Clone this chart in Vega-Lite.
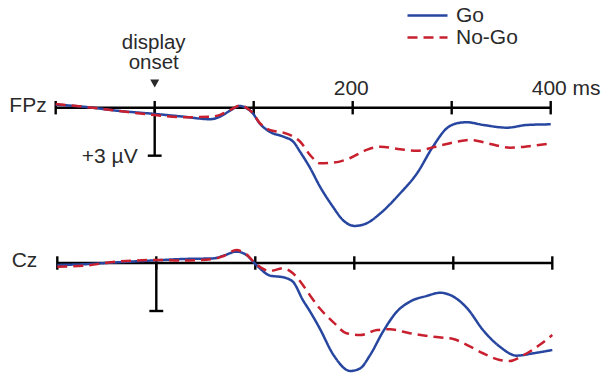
{
  "$schema": "https://vega.github.io/schema/vega-lite/v6.json",
  "padding": 0,
  "spacing": 0,
  "bounds": "flush",
  "config": {
    "view": {"stroke": null},
    "font": "Liberation Sans",
    "axis": {"grid": false, "domain": false, "ticks": false, "title": null},
    "concat": {"spacing": 0}
  },
  "resolve": {"scale": {"x": "independent", "y": "independent", "color": "shared", "strokeDash": "shared"}},
  "datasets": {
    "ticks": [{"t": -100}, {"t": 0}, {"t": 100}, {"t": 200}, {"t": 300}, {"t": 400}],
    "erp": [
      {"panel": "FPz", "cond": "Go", "t": -100, "v": -0.19},
      {"panel": "FPz", "cond": "Go", "t": -72, "v": -0.06},
      {"panel": "FPz", "cond": "Go", "t": -38, "v": 0.19},
      {"panel": "FPz", "cond": "Go", "t": 0, "v": 0.39},
      {"panel": "FPz", "cond": "Go", "t": 29, "v": 0.56},
      {"panel": "FPz", "cond": "Go", "t": 56, "v": 0.72},
      {"panel": "FPz", "cond": "Go", "t": 66, "v": 0.56},
      {"panel": "FPz", "cond": "Go", "t": 76, "v": 0.19},
      {"panel": "FPz", "cond": "Go", "t": 86, "v": -0.11},
      {"panel": "FPz", "cond": "Go", "t": 93, "v": 0.04},
      {"panel": "FPz", "cond": "Go", "t": 99, "v": 0.35},
      {"panel": "FPz", "cond": "Go", "t": 106, "v": 0.98},
      {"panel": "FPz", "cond": "Go", "t": 116, "v": 1.5},
      {"panel": "FPz", "cond": "Go", "t": 130, "v": 1.81},
      {"panel": "FPz", "cond": "Go", "t": 140, "v": 2.13},
      {"panel": "FPz", "cond": "Go", "t": 147, "v": 2.77},
      {"panel": "FPz", "cond": "Go", "t": 157, "v": 3.77},
      {"panel": "FPz", "cond": "Go", "t": 167, "v": 4.94},
      {"panel": "FPz", "cond": "Go", "t": 180, "v": 6.19},
      {"panel": "FPz", "cond": "Go", "t": 190, "v": 7.02},
      {"panel": "FPz", "cond": "Go", "t": 202, "v": 7.39},
      {"panel": "FPz", "cond": "Go", "t": 214, "v": 7.23},
      {"panel": "FPz", "cond": "Go", "t": 228, "v": 6.6},
      {"panel": "FPz", "cond": "Go", "t": 248, "v": 5.35},
      {"panel": "FPz", "cond": "Go", "t": 265, "v": 4.1},
      {"panel": "FPz", "cond": "Go", "t": 281, "v": 2.44},
      {"panel": "FPz", "cond": "Go", "t": 295, "v": 1.29},
      {"panel": "FPz", "cond": "Go", "t": 305, "v": 0.98},
      {"panel": "FPz", "cond": "Go", "t": 315, "v": 0.91},
      {"panel": "FPz", "cond": "Go", "t": 332, "v": 1.08},
      {"panel": "FPz", "cond": "Go", "t": 356, "v": 1.25},
      {"panel": "FPz", "cond": "Go", "t": 376, "v": 1.08},
      {"panel": "FPz", "cond": "Go", "t": 400, "v": 1.04},
      {"panel": "FPz", "cond": "No-Go", "t": -100, "v": -0.23},
      {"panel": "FPz", "cond": "No-Go", "t": -72, "v": -0.06},
      {"panel": "FPz", "cond": "No-Go", "t": -38, "v": 0.19},
      {"panel": "FPz", "cond": "No-Go", "t": 0, "v": 0.46},
      {"panel": "FPz", "cond": "No-Go", "t": 29, "v": 0.6},
      {"panel": "FPz", "cond": "No-Go", "t": 56, "v": 0.56},
      {"panel": "FPz", "cond": "No-Go", "t": 66, "v": 0.45},
      {"panel": "FPz", "cond": "No-Go", "t": 76, "v": 0.15},
      {"panel": "FPz", "cond": "No-Go", "t": 86, "v": -0.13},
      {"panel": "FPz", "cond": "No-Go", "t": 93, "v": 0.02},
      {"panel": "FPz", "cond": "No-Go", "t": 99, "v": 0.33},
      {"panel": "FPz", "cond": "No-Go", "t": 106, "v": 0.95},
      {"panel": "FPz", "cond": "No-Go", "t": 116, "v": 1.39},
      {"panel": "FPz", "cond": "No-Go", "t": 130, "v": 1.56},
      {"panel": "FPz", "cond": "No-Go", "t": 140, "v": 1.81},
      {"panel": "FPz", "cond": "No-Go", "t": 147, "v": 2.13},
      {"panel": "FPz", "cond": "No-Go", "t": 157, "v": 2.96},
      {"panel": "FPz", "cond": "No-Go", "t": 167, "v": 3.48},
      {"panel": "FPz", "cond": "No-Go", "t": 180, "v": 3.44},
      {"panel": "FPz", "cond": "No-Go", "t": 197, "v": 3.16},
      {"panel": "FPz", "cond": "No-Go", "t": 214, "v": 2.64},
      {"panel": "FPz", "cond": "No-Go", "t": 228, "v": 2.44},
      {"panel": "FPz", "cond": "No-Go", "t": 248, "v": 2.6},
      {"panel": "FPz", "cond": "No-Go", "t": 265, "v": 2.69},
      {"panel": "FPz", "cond": "No-Go", "t": 281, "v": 2.48},
      {"panel": "FPz", "cond": "No-Go", "t": 305, "v": 2.13},
      {"panel": "FPz", "cond": "No-Go", "t": 319, "v": 2.02},
      {"panel": "FPz", "cond": "No-Go", "t": 339, "v": 2.27},
      {"panel": "FPz", "cond": "No-Go", "t": 359, "v": 2.5},
      {"panel": "FPz", "cond": "No-Go", "t": 380, "v": 2.39},
      {"panel": "FPz", "cond": "No-Go", "t": 400, "v": 2.23},
      {"panel": "Cz", "cond": "Go", "t": -100, "v": 0.12},
      {"panel": "Cz", "cond": "Go", "t": -74, "v": 0.08},
      {"panel": "Cz", "cond": "Go", "t": -40, "v": -0.04},
      {"panel": "Cz", "cond": "Go", "t": 0, "v": -0.17},
      {"panel": "Cz", "cond": "Go", "t": 27, "v": -0.25},
      {"panel": "Cz", "cond": "Go", "t": 58, "v": -0.29},
      {"panel": "Cz", "cond": "Go", "t": 68, "v": -0.46},
      {"panel": "Cz", "cond": "Go", "t": 81, "v": -0.71},
      {"panel": "Cz", "cond": "Go", "t": 91, "v": -0.5},
      {"panel": "Cz", "cond": "Go", "t": 101, "v": 0.12},
      {"panel": "Cz", "cond": "Go", "t": 115, "v": 0.79},
      {"panel": "Cz", "cond": "Go", "t": 128, "v": 0.89},
      {"panel": "Cz", "cond": "Go", "t": 138, "v": 1.17},
      {"panel": "Cz", "cond": "Go", "t": 148, "v": 2.31},
      {"panel": "Cz", "cond": "Go", "t": 155, "v": 3.0},
      {"panel": "Cz", "cond": "Go", "t": 165, "v": 4.08},
      {"panel": "Cz", "cond": "Go", "t": 179, "v": 5.75},
      {"panel": "Cz", "cond": "Go", "t": 196, "v": 6.75},
      {"panel": "Cz", "cond": "Go", "t": 206, "v": 6.58},
      {"panel": "Cz", "cond": "Go", "t": 216, "v": 5.75},
      {"panel": "Cz", "cond": "Go", "t": 229, "v": 4.29},
      {"panel": "Cz", "cond": "Go", "t": 243, "v": 3.04},
      {"panel": "Cz", "cond": "Go", "t": 256, "v": 2.42},
      {"panel": "Cz", "cond": "Go", "t": 273, "v": 2.06},
      {"panel": "Cz", "cond": "Go", "t": 287, "v": 1.86},
      {"panel": "Cz", "cond": "Go", "t": 300, "v": 2.1},
      {"panel": "Cz", "cond": "Go", "t": 314, "v": 2.83},
      {"panel": "Cz", "cond": "Go", "t": 330, "v": 4.19},
      {"panel": "Cz", "cond": "Go", "t": 347, "v": 5.23},
      {"panel": "Cz", "cond": "Go", "t": 364, "v": 5.79},
      {"panel": "Cz", "cond": "Go", "t": 381, "v": 5.64},
      {"panel": "Cz", "cond": "Go", "t": 400, "v": 5.44},
      {"panel": "Cz", "cond": "No-Go", "t": -100, "v": 0.23},
      {"panel": "Cz", "cond": "No-Go", "t": -74, "v": 0.17},
      {"panel": "Cz", "cond": "No-Go", "t": -40, "v": -0.08},
      {"panel": "Cz", "cond": "No-Go", "t": 0, "v": -0.19},
      {"panel": "Cz", "cond": "No-Go", "t": 27, "v": -0.15},
      {"panel": "Cz", "cond": "No-Go", "t": 58, "v": -0.25},
      {"panel": "Cz", "cond": "No-Go", "t": 68, "v": -0.44},
      {"panel": "Cz", "cond": "No-Go", "t": 81, "v": -0.81},
      {"panel": "Cz", "cond": "No-Go", "t": 91, "v": -0.54},
      {"panel": "Cz", "cond": "No-Go", "t": 101, "v": 0.08},
      {"panel": "Cz", "cond": "No-Go", "t": 115, "v": 0.5},
      {"panel": "Cz", "cond": "No-Go", "t": 128, "v": 0.33},
      {"panel": "Cz", "cond": "No-Go", "t": 138, "v": 0.64},
      {"panel": "Cz", "cond": "No-Go", "t": 148, "v": 1.38},
      {"panel": "Cz", "cond": "No-Go", "t": 155, "v": 2.0},
      {"panel": "Cz", "cond": "No-Go", "t": 165, "v": 2.83},
      {"panel": "Cz", "cond": "No-Go", "t": 179, "v": 3.71},
      {"panel": "Cz", "cond": "No-Go", "t": 192, "v": 4.39},
      {"panel": "Cz", "cond": "No-Go", "t": 206, "v": 4.5},
      {"panel": "Cz", "cond": "No-Go", "t": 223, "v": 4.19},
      {"panel": "Cz", "cond": "No-Go", "t": 236, "v": 4.14},
      {"panel": "Cz", "cond": "No-Go", "t": 256, "v": 4.39},
      {"panel": "Cz", "cond": "No-Go", "t": 280, "v": 4.61},
      {"panel": "Cz", "cond": "No-Go", "t": 300, "v": 4.75},
      {"panel": "Cz", "cond": "No-Go", "t": 314, "v": 5.13},
      {"panel": "Cz", "cond": "No-Go", "t": 330, "v": 5.64},
      {"panel": "Cz", "cond": "No-Go", "t": 347, "v": 6.06},
      {"panel": "Cz", "cond": "No-Go", "t": 357, "v": 6.13},
      {"panel": "Cz", "cond": "No-Go", "t": 370, "v": 5.79},
      {"panel": "Cz", "cond": "No-Go", "t": 387, "v": 5.13},
      {"panel": "Cz", "cond": "No-Go", "t": 400, "v": 4.5}
    ]
  },
  "vconcat": [
    {
      "width": 602,
      "height": 240,
      "layer": [
        {
          "data": {"name": "ticks"},
          "mark": {"type": "rule", "color": "black", "strokeWidth": 2.4},
          "encoding": {
            "x": {"field": "t", "type": "quantitative", "scale": {"domain": [-156.26, 451.82], "nice": false, "zero": false},
              "axis": {"orient": "top", "offset": -94, "values": [200, 400], "domain": false, "ticks": false, "tickSize": 0, "grid": false, "labelPadding": 0, "labelBaseline": "alphabetic", "labelFont": "Liberation Sans", "labelFontSize": 21, "labelColor": "#2a2a2a", "labelExpr": "datum.value == 400 ? '400 ms' : datum.label", "labelAlign": "left", "labelOffset": -19.5, "labelFlush": false, "labelOverlap": false, "title": null}},
            "y": {"datum": -0.42, "scale": {"domain": [-6.73, 8.27], "reverse": true, "nice": false, "zero": false}, "axis": null},
            "y2": {"datum": 0.42}
          }
        },
        {
          "data": {"values": [{}]},
          "mark": {"type": "rule", "color": "black", "strokeWidth": 2.4},
          "encoding": {
            "x": {"datum": -100, "type": "quantitative", "scale": {"domain": [-156.26, 451.82], "nice": false, "zero": false}},
            "x2": {"datum": 400},
            "y": {"datum": 0, "scale": {"domain": [-6.73, 8.27], "reverse": true, "nice": false, "zero": false}, "axis": null}
          }
        },
        {
          "data": {"values": [{}]},
          "mark": {"type": "rule", "color": "black", "strokeWidth": 2.4},
          "encoding": {
            "x": {"datum": 0, "type": "quantitative", "scale": {"domain": [-156.26, 451.82], "nice": false, "zero": false}},
            "y": {"datum": 0, "scale": {"domain": [-6.73, 8.27], "reverse": true, "nice": false, "zero": false}, "axis": null},
            "y2": {"datum": 3}
          }
        },
        {
          "data": {"values": [{}]},
          "mark": {"type": "rule", "color": "black", "strokeWidth": 2.4},
          "encoding": {
            "x": {"datum": -7, "type": "quantitative", "scale": {"domain": [-156.26, 451.82], "nice": false, "zero": false}},
            "x2": {"datum": 7},
            "y": {"datum": 3, "scale": {"domain": [-6.73, 8.27], "reverse": true, "nice": false, "zero": false}, "axis": null}
          }
        },
        {
          "data": {"name": "erp"},
          "transform": [{"filter": "datum.panel == 'FPz'"}],
          "mark": {"type": "line", "strokeWidth": 2.5, "interpolate": "monotone"},
          "encoding": {
            "x": {"field": "t", "type": "quantitative", "scale": {"domain": [-156.26, 451.82], "nice": false, "zero": false}},
            "y": {"field": "v", "type": "quantitative", "scale": {"domain": [-6.73, 8.27], "reverse": true, "nice": false, "zero": false}, "axis": null},
            "color": {"field": "cond", "type": "nominal", "scale": {"domain": ["Go", "No-Go"], "range": ["#2746a0", "#c8202f"]},
              "legend": {"title": null, "orient": "none", "legendX": 416, "legendY": 4, "symbolType": "M-2,0H2", "symbolSize": 400, "symbolStrokeWidth": 2.5, "labelFontSize": 21, "labelFont": "Liberation Sans", "labelColor": "#2a2a2a", "labelOffset": 17, "rowPadding": 0, "padding": 0}},
            "strokeDash": {"field": "cond", "type": "nominal", "scale": {"domain": ["Go", "No-Go"], "range": [[1, 0], [10, 6]]},
              "legend": {"title": null, "orient": "none", "legendX": 416, "legendY": 4, "symbolType": "M-2,0H2", "symbolSize": 400, "symbolStrokeWidth": 2.5, "labelFontSize": 21, "labelFont": "Liberation Sans", "labelColor": "#2a2a2a", "labelOffset": 17, "rowPadding": 0, "padding": 0}}
          }
        },
        {
          "data": {"values": [{}]},
          "mark": {"type": "text", "text": "FPz", "align": "right", "baseline": "alphabetic", "dx": -9, "fontSize": 21, "font": "Liberation Sans", "color": "#2a2a2a"},
          "encoding": {
            "x": {"datum": -100, "type": "quantitative", "scale": {"domain": [-156.26, 451.82], "nice": false, "zero": false}},
            "y": {"datum": 0.27, "scale": {"domain": [-6.73, 8.27], "reverse": true, "nice": false, "zero": false}, "axis": null}
          }
        },
        {
          "data": {"values": [{}]},
          "mark": {"type": "text", "text": "+3 µV", "align": "right", "baseline": "alphabetic", "dx": -17, "fontSize": 21, "font": "Liberation Sans", "color": "#2a2a2a"},
          "encoding": {
            "x": {"datum": 0, "type": "quantitative", "scale": {"domain": [-156.26, 451.82], "nice": false, "zero": false}},
            "y": {"datum": 3.47, "scale": {"domain": [-6.73, 8.27], "reverse": true, "nice": false, "zero": false}, "axis": null}
          }
        },
        {
          "data": {"values": [{}]},
          "mark": {"type": "text", "text": ["display", "onset"], "lineHeight": 20.5, "align": "center", "baseline": "alphabetic", "fontSize": 20.5, "font": "Liberation Sans", "color": "#2a2a2a"},
          "encoding": {
            "x": {"datum": -1, "type": "quantitative", "scale": {"domain": [-156.26, 451.82], "nice": false, "zero": false}},
            "y": {"datum": -3.67, "scale": {"domain": [-6.73, 8.27], "reverse": true, "nice": false, "zero": false}, "axis": null}
          }
        },
        {
          "data": {"values": [{}]},
          "mark": {"type": "point", "shape": "triangle-down", "filled": true, "size": 81, "color": "#2a2a2a", "opacity": 1},
          "encoding": {
            "x": {"datum": 0, "type": "quantitative", "scale": {"domain": [-156.26, 451.82], "nice": false, "zero": false}},
            "y": {"datum": -1.51, "scale": {"domain": [-6.73, 8.27], "reverse": true, "nice": false, "zero": false}, "axis": null}
          }
        }
      ]
    },
    {
      "width": 602,
      "height": 136,
      "layer": [
        {
          "data": {"name": "ticks"},
          "mark": {"type": "rule", "color": "black", "strokeWidth": 2.4},
          "encoding": {
            "x": {"field": "t", "type": "quantitative", "scale": {"domain": [-157.88, 450.2], "nice": false, "zero": false}, "axis": null},
            "y": {"datum": -0.42, "scale": {"domain": [-1.4375, 7.0625], "reverse": true, "nice": false, "zero": false}, "axis": null},
            "y2": {"datum": 0.42}
          }
        },
        {
          "data": {"values": [{}]},
          "mark": {"type": "rule", "color": "black", "strokeWidth": 2.4},
          "encoding": {
            "x": {"datum": -100, "type": "quantitative", "scale": {"domain": [-157.88, 450.2], "nice": false, "zero": false}, "axis": null},
            "x2": {"datum": 400},
            "y": {"datum": 0, "scale": {"domain": [-1.4375, 7.0625], "reverse": true, "nice": false, "zero": false}, "axis": null}
          }
        },
        {
          "data": {"values": [{}]},
          "mark": {"type": "rule", "color": "black", "strokeWidth": 2.4},
          "encoding": {
            "x": {"datum": 0, "type": "quantitative", "scale": {"domain": [-157.88, 450.2], "nice": false, "zero": false}, "axis": null},
            "y": {"datum": 0, "scale": {"domain": [-1.4375, 7.0625], "reverse": true, "nice": false, "zero": false}, "axis": null},
            "y2": {"datum": 3}
          }
        },
        {
          "data": {"values": [{}]},
          "mark": {"type": "rule", "color": "black", "strokeWidth": 2.4},
          "encoding": {
            "x": {"datum": -7, "type": "quantitative", "scale": {"domain": [-157.88, 450.2], "nice": false, "zero": false}, "axis": null},
            "x2": {"datum": 7},
            "y": {"datum": 3, "scale": {"domain": [-1.4375, 7.0625], "reverse": true, "nice": false, "zero": false}, "axis": null}
          }
        },
        {
          "data": {"name": "erp"},
          "transform": [{"filter": "datum.panel == 'Cz'"}],
          "mark": {"type": "line", "strokeWidth": 2.5, "interpolate": "monotone"},
          "encoding": {
            "x": {"field": "t", "type": "quantitative", "scale": {"domain": [-157.88, 450.2], "nice": false, "zero": false}, "axis": null},
            "y": {"field": "v", "type": "quantitative", "scale": {"domain": [-1.4375, 7.0625], "reverse": true, "nice": false, "zero": false}, "axis": null},
            "color": {"field": "cond", "type": "nominal", "scale": {"domain": ["Go", "No-Go"], "range": ["#2746a0", "#c8202f"]},
              "legend": {"title": null, "orient": "none", "legendX": 416, "legendY": 4, "symbolType": "M-2,0H2", "symbolSize": 400, "symbolStrokeWidth": 2.5, "labelFontSize": 21, "labelFont": "Liberation Sans", "labelColor": "#2a2a2a", "labelOffset": 17, "rowPadding": 0, "padding": 0}},
            "strokeDash": {"field": "cond", "type": "nominal", "scale": {"domain": ["Go", "No-Go"], "range": [[1, 0], [10, 6]]},
              "legend": {"title": null, "orient": "none", "legendX": 416, "legendY": 4, "symbolType": "M-2,0H2", "symbolSize": 400, "symbolStrokeWidth": 2.5, "labelFontSize": 21, "labelFont": "Liberation Sans", "labelColor": "#2a2a2a", "labelOffset": 17, "rowPadding": 0, "padding": 0}}
          }
        },
        {
          "data": {"values": [{}]},
          "mark": {"type": "text", "text": "Cz", "align": "right", "baseline": "alphabetic", "dx": -20, "fontSize": 21, "font": "Liberation Sans", "color": "#2a2a2a"},
          "encoding": {
            "x": {"datum": -100, "type": "quantitative", "scale": {"domain": [-157.88, 450.2], "nice": false, "zero": false}, "axis": null},
            "y": {"datum": 0.23, "scale": {"domain": [-1.4375, 7.0625], "reverse": true, "nice": false, "zero": false}, "axis": null}
          }
        }
      ]
    }
  ]
}
